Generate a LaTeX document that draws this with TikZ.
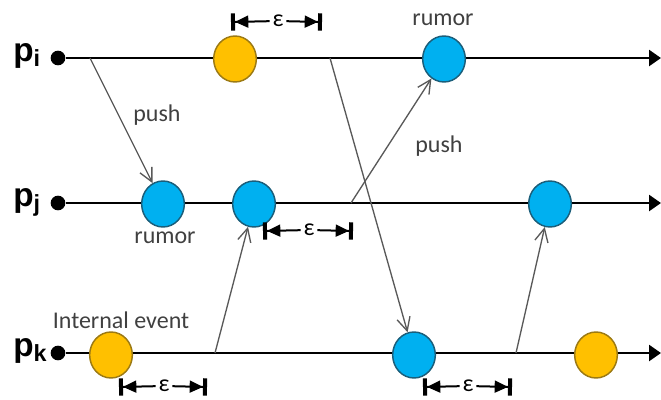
\documentclass[tikz,border=0pt]{standalone}
\usepackage{fontspec}
\setmainfont{Carlito}
\newfontfamily\pfont{Liberation Sans}
\usetikzlibrary{arrows.meta,shapes.geometric}
\definecolor{orangeF}{HTML}{FFC000}
\definecolor{orangeD}{HTML}{9C7A14}
\definecolor{blueF}{HTML}{00B0F0}
\definecolor{blueD}{HTML}{1B5E7A}
\definecolor{msgc}{HTML}{595959}
\definecolor{lblc}{HTML}{404040}
\begin{document}
\begin{tikzpicture}[x=0.75pt,y=-0.75pt,
  timeline/.style={line width=1.9pt,-{Triangle[length=9pt,width=12pt]}},
  startdot/.style={circle,fill=black,minimum size=11pt,inner sep=0pt},
  ev/.style={ellipse,minimum width=32pt,minimum height=34.5pt,inner sep=0pt,line width=1.1pt},
  orangeev/.style={ev,fill=orangeF,draw=orangeD},
  blueev/.style={ev,fill=blueF,draw=blueD},
  msgarrow/.style={draw=msgc,line width=1pt,-{Straight Barb[length=10pt,width=10pt]}},
  lbl/.style={text=lblc,font=\fontsize{18}{20}\selectfont,inner sep=0pt},
  plbl/.style={font=\pfont\bfseries\fontsize{25}{27}\selectfont,anchor=base west,inner sep=0pt},
  epsn/.style={font=\fontsize{18}{20}\selectfont,inner sep=2pt},
  dimline/.style={line width=1.5pt,-{Triangle[length=10pt,width=9pt]Bar[width=13pt,line width=3pt]}}
]
\useasboundingbox (0,0) rectangle (661,400);

% process labels
\node[plbl] (lpi) at (13,61) {p\textsubscript{i}};
\node[plbl] (lpj) at (13,206) {p\textsubscript{j}};
\node[plbl] (lpk) at (13,356) {p\textsubscript{k}};

% timelines
\node[startdot] (si) at (58,58) {};
\node[startdot] (sj) at (58,203) {};
\node[startdot] (sk) at (58,353) {};
\coordinate (ei) at (661,58);
\coordinate (ej) at (661,203);
\coordinate (ek) at (661,353);
\draw[timeline] (si) -- (ei);
\draw[timeline] (sj) -- (ej);
\draw[timeline] (sk) -- (ek);

% events
\node[orangeev] (io) at (235,59) {};
\node[blueev] (ir) at (444,59) {};
\node[blueev] (j1) at (163,204) {};
\node[blueev] (j2) at (254,204) {};
\node[blueev] (j3) at (550,204) {};
\node[orangeev] (k1) at (111,355) {};
\node[blueev] (k2) at (414,355) {};
\node[orangeev] (k3) at (596,355) {};

% messages
\coordinate (m1) at (90,58);
\coordinate (m2) at (330,58);
\coordinate (m3) at (351,203);
\coordinate (m4) at (215,353);
\coordinate (m5) at (516,353);
\draw[msgarrow] (m1) -- (j1);
\draw[msgarrow] (m2) -- (k2);
\draw[msgarrow] (m3) -- (ir);
\draw[msgarrow] (m4) -- (j2);
\draw[msgarrow] (m5) -- (j3);

% labels
\node[lbl] (push1) at (157,115) {push};
\node[lbl] (push2) at (439,146) {push};
\node[lbl] (rum1) at (443,20) {rumor};
\node[lbl] (rum2) at (165,238) {rumor};
\node[lbl] (ie) at (121,320) {Internal event};

% epsilon markers
\coordinate (a1) at (231,22); \coordinate (b1) at (322,22);
\node[epsn] (e1) at (278,21) {ε};
\draw[dimline] (e1) -- (a1); \draw[dimline] (e1) -- (b1);
\coordinate (a2) at (263,231); \coordinate (b2) at (353,231);
\node[epsn] (e2) at (309,230) {ε};
\draw[dimline] (e2) -- (a2); \draw[dimline] (e2) -- (b2);
\coordinate (a3) at (119,387); \coordinate (b3) at (207,387);
\node[epsn] (e3) at (164,386) {ε};
\draw[dimline] (e3) -- (a3); \draw[dimline] (e3) -- (b3);
\coordinate (a4) at (423,387); \coordinate (b4) at (512,387);
\node[epsn] (e4) at (468,386) {ε};
\draw[dimline] (e4) -- (a4); \draw[dimline] (e4) -- (b4);
\end{tikzpicture}
\end{document}
